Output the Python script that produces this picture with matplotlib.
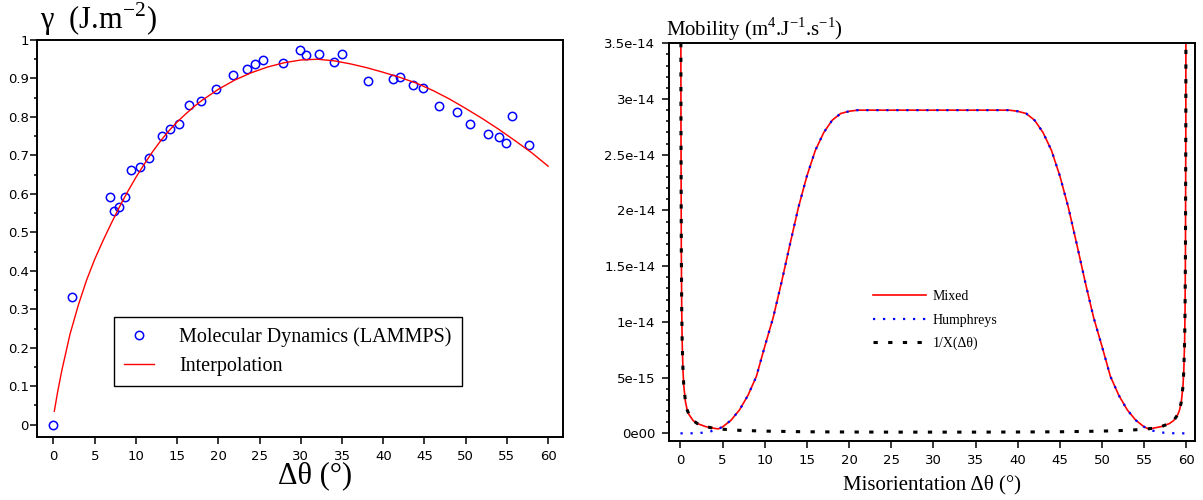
import numpy as np
import matplotlib
matplotlib.use("Agg")
import matplotlib.pyplot as plt

plt.rcParams['mathtext.fontset'] = 'custom'
plt.rcParams['mathtext.rm'] = 'Liberation Serif'
SERIF = 'Liberation Serif'

# --- left panel : grain boundary energy ---
md_theta = [0, 2.27, 6.87, 7.36, 7.92, 8.65, 9.45, 10.47, 11.64, 13.17, 14.1, 15.2,
            16.41, 17.87, 19.68, 21.78, 23.48, 24.45, 25.45, 27.8, 29.87, 30.59,
            32.2, 33.99, 34.95, 38.2, 41.2, 42.06, 43.56, 44.81, 46.79, 48.98,
            50.55, 52.65, 53.99, 54.87, 55.56, 57.7]
md_gamma = [0.0, 0.332, 0.592, 0.556, 0.567, 0.592, 0.661, 0.669, 0.692, 0.750, 0.768, 0.782,
            0.831, 0.842, 0.873, 0.908, 0.925, 0.937, 0.947, 0.939, 0.973, 0.962,
            0.963, 0.943, 0.964, 0.893, 0.899, 0.903, 0.883, 0.876, 0.828, 0.814,
            0.782, 0.756, 0.748, 0.731, 0.802, 0.727]

fit_theta = [0.1, 0.5, 1, 2, 3, 4, 5, 6, 7, 8, 9, 10, 11, 12, 13, 14, 15, 16, 17, 18,
             20, 22, 24, 26, 28, 30, 32, 34, 36, 38, 40, 42, 44, 46, 48, 50, 52, 54,
             56, 58, 60]
fit_gamma = [0.035, 0.085, 0.14, 0.235, 0.31, 0.375, 0.43, 0.478, 0.523, 0.566, 0.606,
             0.643, 0.677, 0.709, 0.738, 0.764, 0.787, 0.807, 0.826, 0.843, 0.872,
             0.896, 0.915, 0.93, 0.941, 0.948, 0.95, 0.946, 0.938, 0.928, 0.916,
             0.903, 0.888, 0.869, 0.847, 0.822, 0.796, 0.768, 0.738, 0.707, 0.672]

# --- right panel : mobility (units of 1e-14) ---
hum_theta = [0, 1, 2, 3, 4, 5, 6, 7, 8, 9, 10, 11, 12, 13, 14, 15, 16, 17, 18, 19, 20,
             21, 22, 25, 30, 35, 38, 39, 40, 41, 42, 43, 44, 45, 46, 47, 48, 49, 50,
             51, 52, 53, 54, 55, 56, 57, 58, 59, 60]
hum_mob = [0, 0, 0.002, 0.008, 0.025, 0.058, 0.118, 0.21, 0.34, 0.51, 0.78, 1.04, 1.36,
           1.70, 2.03, 2.31, 2.54, 2.70, 2.81, 2.87, 2.89, 2.90, 2.90, 2.90, 2.90, 2.90,
           2.90, 2.90, 2.89, 2.87, 2.81, 2.70, 2.54, 2.31, 2.03, 1.70, 1.36, 1.04,
           0.78, 0.51, 0.34, 0.21, 0.118, 0.058, 0.025, 0.008, 0.002, 0, 0]

inv_theta = [0.04, 0.06, 0.1, 0.15, 0.2, 0.3, 0.4, 0.6, 0.8, 1, 1.5, 2, 3, 4, 5, 7, 10,
             15, 20, 25, 30, 35, 40, 45, 50, 53, 55, 56, 57, 58, 58.5, 59, 59.2, 59.4,
             59.6, 59.7, 59.8, 59.85, 59.9, 59.94, 59.96]
inv_mob = [4.1, 2.75, 1.65, 1.1, 0.83, 0.56, 0.42, 0.28, 0.21, 0.17, 0.115, 0.088, 0.06,
           0.045, 0.037, 0.027, 0.02, 0.014, 0.012, 0.011, 0.011, 0.011, 0.012, 0.014,
           0.02, 0.027, 0.037, 0.045, 0.06, 0.088, 0.115, 0.17, 0.21, 0.28, 0.42, 0.56,
           0.83, 1.1, 1.65, 2.75, 4.1]

mix_theta = [0.04, 0.06, 0.1, 0.15, 0.2, 0.3, 0.4, 0.6, 0.8, 1, 1.5, 2, 3, 4, 4.5, 5, 6,
             7, 8, 9, 10, 11, 12, 13, 14, 15, 16, 17, 18, 19, 20, 21, 22, 25, 30, 35,
             38, 39, 40, 41, 42, 43, 44, 45, 46, 47, 48, 49, 50, 51, 52, 53, 54, 55,
             55.5, 56, 57, 58, 58.5, 59, 59.2, 59.4, 59.6, 59.7, 59.8, 59.85, 59.9,
             59.94, 59.96]
mix_mob = [4.1, 2.75, 1.65, 1.1, 0.83, 0.56, 0.42, 0.28, 0.21, 0.17, 0.115, 0.088, 0.06,
           0.045, 0.04, 0.058, 0.118, 0.21, 0.34, 0.51, 0.78, 1.04, 1.36, 1.70, 2.03,
           2.31, 2.54, 2.70, 2.81, 2.87, 2.89, 2.90, 2.90, 2.90, 2.90, 2.90, 2.90, 2.90,
           2.89, 2.87, 2.81, 2.70, 2.54, 2.31, 2.03, 1.70, 1.36, 1.04, 0.78, 0.51,
           0.34, 0.21, 0.118, 0.058, 0.04, 0.045, 0.06, 0.088, 0.115, 0.17, 0.21,
           0.28, 0.42, 0.56, 0.83, 1.1, 1.65, 2.75, 4.1]

mob_ticks = [0, 0.5, 1, 1.5, 2, 2.5, 3, 3.5]
mob_labels = ['0e00', '5e-15', '1e-14', '1.5e-14', '2e-14', '2.5e-14', '3e-14', '3.5e-14']

W, H = 1203, 500
fig = plt.figure(figsize=(W / 100, H / 100), dpi=100)

def px_axes(x0, y0, x1, y1):
    # axes from pixel box (top-left origin)
    return fig.add_axes([x0 / W, 1 - y1 / H, (x1 - x0) / W, (y1 - y0) / H])

def style(ax, pad_y, pad_x):
    for s in ax.spines.values():
        s.set_linewidth(1.4)
    ax.tick_params(which='both', top=False, right=False, direction='out', width=1.1,
                   labelsize=9.5)
    ax.tick_params(which='major', length=5)
    ax.tick_params(which='minor', length=2.5)
    ax.tick_params(axis='y', pad=pad_y)
    ax.tick_params(axis='x', pad=pad_x)

# 1 - energy
ax1 = px_axes(37, 40, 563, 437)
ax1.plot(md_theta, md_gamma, 'o', ms=6, mfc='none', mec='#0000ff', mew=1.1,
         label='Molecular Dynamics (LAMMPS)')
ax1.plot(fit_theta, fit_gamma, '-', color='#ff0000', lw=1.0, label='Interpolation')
ax1.set_xlim(-2, 61.8)
ax1.set_ylim(-0.032, 1.0)
ax1.set_xticks(np.arange(0, 61, 5))
ax1.set_yticks(np.arange(0, 1.01, 0.1))
ax1.set_yticklabels(['0', '0.1', '0.2', '0.3', '0.4', '0.5', '0.6', '0.7', '0.8', '0.9', '1'])
ax1.set_yticks(np.arange(0.05, 1.0, 0.1), minor=True)
style(ax1, 1, 4)
leg1 = ax1.legend(loc='upper left', bbox_to_anchor=(0.146, 0.302), borderaxespad=0,
                  prop={'family': SERIF, 'size': 14.5}, frameon=True, fancybox=False,
                  edgecolor='black', framealpha=1, borderpad=0.5, labelspacing=0.5,
                  handlelength=1.5, handletextpad=1.25)
leg1.get_frame().set_linewidth(1.0)

fig.text(40 / W, 1 - 29 / H, 'γ  (J.m$^{\\mathregular{-2}}$)', family=SERIF, fontsize=22,
         va='baseline', ha='left')
fig.text(315 / W, 1 - 483 / H, 'Δθ (°)', family=SERIF, fontsize=22, va='baseline',
         ha='center')

# 2 - mobility
ax2 = px_axes(669, 43.3, 1195, 440.7)
ax2.plot(mix_theta, mix_mob, '-', color='#ff0000', lw=1.2, label='Mixed')
ax2.plot(hum_theta, hum_mob, color='#0000ff', lw=1.6, linestyle=(0, (1, 3.5)),
         label='Humphreys')
ax2.plot(inv_theta, inv_mob, color='black', lw=2.2, linestyle=(0, (1.4, 3.4)),
         label='1/X(Δθ)')
ax2.set_xlim(-1.36, 61.03)
ax2.set_ylim(-0.066, 3.5)
ax2.set_xticks(np.arange(0, 61, 5))
ax2.set_yticks(mob_ticks)
ax2.set_yticklabels(mob_labels)
ax2.set_yticks(np.arange(0, 3.51, 0.1), minor=True)
style(ax2, 4.8, 4.5)
ax2.legend(loc='upper left', bbox_to_anchor=(0.388, 0.379), borderaxespad=0,
           borderpad=0, frameon=False, prop={'family': SERIF, 'size': 10},
           handlelength=3.8, handletextpad=0.5, labelspacing=0.75)

fig.text(666 / W, 1 - 36 / H,
         'Mobility (m$^{\\mathregular{4}}$.J$^{\\mathregular{-1}}$.s$^{\\mathregular{-1}}$)',
         family=SERIF, fontsize=15, va='baseline', ha='left')
fig.text(932 / W, 1 - 489 / H, 'Misorientation Δθ (°)', family=SERIF, fontsize=15,
         va='baseline', ha='center')

fig.savefig('out.png', dpi=100)
